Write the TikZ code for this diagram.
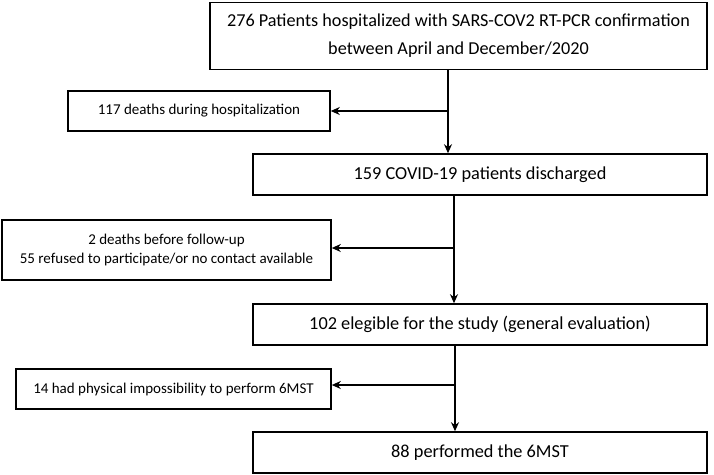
\documentclass[tikz,border=0pt]{standalone}
\usepackage{fontspec}
\setmainfont{Carlito}
\usetikzlibrary{arrows.meta}
\begin{document}
\begin{tikzpicture}[x=1pt,y=-1pt,
  mainbox/.style={draw,line width=1.6pt,inner sep=0pt,align=center,font=\fontsize{18.3}{22}\selectfont},
  sidebox/.style={draw,line width=1.6pt,inner sep=0pt,align=center,font=\fontsize{15}{19}\selectfont},
  flow/.style={line width=1.6pt,-{Stealth[length=9pt,width=8pt]}}]
\useasboundingbox (0,0) rectangle (714,474);
\node[mainbox,minimum width=497pt,minimum height=67pt,font=\fontsize{18.2}{28}\selectfont] (b1) at (458.5,36) {276 Patients hospitalized with SARS-COV2 RT-PCR confirmation\\between April and December/2020};
\node[sidebox,minimum width=262pt,minimum height=40pt] (d1) at (199,111) {117 deaths during hospitalization};
\node[mainbox,minimum width=454pt,minimum height=41pt] (b2) at (480,174.5) {159 COVID-19 patients discharged};
\node[sidebox,minimum width=329pt,minimum height=60pt] (d2) at (166.5,250) {2 deaths before follow-up\\55 refused to participate/or no contact available};
\node[mainbox,minimum width=454pt,minimum height=41pt] (b3) at (480,324.5) {102 elegible for the study (general evaluation)};
\node[sidebox,minimum width=315pt,minimum height=40pt] (d3) at (173.5,389) {14 had physical impossibility to perform 6MST};
\node[mainbox,minimum width=454pt,minimum height=41pt] (b4) at (480,452.5) {88 performed the 6MST};
% junctions
\coordinate (j1) at (448,111);
\coordinate (j2) at (454,248);
\coordinate (j3) at (455,385);
\draw[flow] (b1.south -| j1) -- (b2.north -| j1);
\draw[flow] (j1) -- (d1.east |- j1);
\draw[flow] (b2.south -| j2) -- (b3.north -| j2);
\draw[flow] (j2) -- (d2.east |- j2);
\draw[flow] (b3.south -| j3) -- (b4.north -| j3);
\draw[flow] (j3) -- (d3.east |- j3);
\end{tikzpicture}
\end{document}
